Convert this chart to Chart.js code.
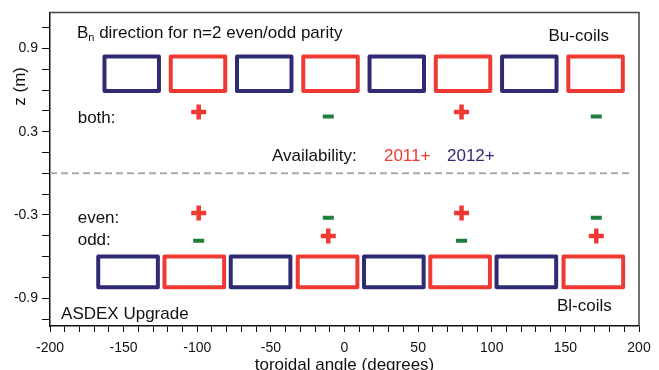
<!DOCTYPE html>
<html>
<head>
<meta charset="utf-8">
<title>Bn direction for n=2 even/odd parity</title>
<script src="https://cdn.jsdelivr.net/npm/chart.js@4/dist/chart.umd.min.js"></script>
<style>
  html, body { margin: 0; padding: 0; background: #ffffff; }
  canvas { display: block; }
</style>
</head>
<body>
<canvas id="chart" width="659" height="370"></canvas>
<script>
// ---- data -------------------------------------------------------------
// Toroidal centres (degrees) of the upper (Bu) and lower (Bl) saddle coils
const upperCoilCentres = [-144.5, -99.5, -54.5, -9.5, 35.5, 80.5, 125.5, 170.5];
const lowerCoilCentres = [-147, -102, -57, -11.5, 33.5, 78.5, 123.5, 169];
// Year each coil became available
const upperCoilYears = [2012, 2011, 2012, 2011, 2012, 2011, 2012, 2011];
const lowerCoilYears = [2012, 2011, 2012, 2011, 2012, 2011, 2012, 2011];
// Toroidal extent (degrees) and vertical extent (m) of each coil row
const upperCoilSpan = 37;
const lowerCoilSpan = 40.5;
const upperCoilZ = [0.594, 0.843];
const lowerCoilZ = [-0.821, -0.600];

// Sign of the applied Bn at each 2011 coil angle, per parity row
const signAngles = [-99, -11, 79.5, 171];
const bothSigns = ['+', '-', '+', '-'];
const evenSigns = ['+', '-', '+', '-'];
const oddSigns  = ['-', '+', '-', '+'];
const bothRowZ = 0.443;
const evenRowZ = -0.286;
const oddRowZ  = -0.452;

// Axis ticks
const xMin = -200, xMax = 200, xMinorStep = 10;
const xTickLabels = [-200, -150, -100, -50, 0, 50, 100, 150, 200];
const yMin = -1.1, yMax = 1.16;
const yTickValues = [-1.05, -0.9, -0.75, -0.6, -0.45, -0.3, -0.15, 0, 0.15, 0.3, 0.45, 0.6, 0.75, 0.9, 1.05];
const yTickLabels = [-0.9, -0.3, 0.3, 0.9];

// ---- styling ----------------------------------------------------------
const FONT = '"Liberation Sans", Arial, Helvetica, sans-serif';
const LABEL_SIZE = 17;
const RED = '#ee3a33';
const NAVY = '#2f2b72';
const GREEN = '#1f7f3c';
const TEXT = '#111111';
const yearColour = { 2011: RED, 2012: NAVY };
const MINUS_DROP = 0.033; // the minus glyph sits a little below the plus centre

Chart.defaults.font.family = FONT;
Chart.defaults.color = TEXT;

const xTickValues = [];
for (let v = xMin; v <= xMax; v += xMinorStep) xTickValues.push(v);

function coilOutline(centre, span, z) {
  const h = span / 2;
  return [
    { x: centre - h, y: z[0] }, { x: centre + h, y: z[0] },
    { x: centre + h, y: z[1] }, { x: centre - h, y: z[1] },
    { x: centre - h, y: z[0] }
  ];
}

function coilDatasets(centres, years, span, z) {
  return centres.map((c, i) => ({
    data: coilOutline(c, span, z),
    showLine: true,
    borderColor: yearColour[years[i]],
    borderWidth: 4,
    borderJoinStyle: 'round',
    borderCapStyle: 'round',
    pointRadius: 0,
    pointHoverRadius: 0,
    fill: false
  }));
}

function signPoints(sign) {
  const rows = [[bothSigns, bothRowZ], [evenSigns, evenRowZ], [oddSigns, oddRowZ]];
  const pts = [];
  rows.forEach(([signs, z]) => {
    signs.forEach((s, i) => {
      if (s === sign) pts.push({ x: signAngles[i], y: sign === '+' ? z : z - MINUS_DROP });
    });
  });
  return pts;
}

const datasets = [
  ...coilDatasets(upperCoilCentres, upperCoilYears, upperCoilSpan, upperCoilZ),
  ...coilDatasets(lowerCoilCentres, lowerCoilYears, lowerCoilSpan, lowerCoilZ),
  {
    // midplane
    data: [{ x: xMin, y: 0 }, { x: 196, y: 0 }],
    showLine: true,
    borderColor: '#aaaaaa',
    borderWidth: 2,
    borderDash: [7, 4],
    pointRadius: 0
  },
  {
    data: signPoints('+'),
    showLine: false,
    pointStyle: 'cross',
    pointRadius: 7.5,
    pointBorderWidth: 4.5,
    pointBorderColor: RED,
    pointBackgroundColor: RED,
    pointHoverRadius: 7.5
  },
  {
    data: signPoints('-'),
    showLine: false,
    pointStyle: 'line',
    pointRadius: 5.5,
    pointBorderWidth: 4,
    pointBorderColor: GREEN,
    pointBackgroundColor: GREEN,
    pointHoverRadius: 5.5
  }
];

// Annotations placed in data coordinates (toroidal angle, z)
const notes = [
  { text: 'Bu-coils', x: 179.6, z: 0.954, align: 'right' },
  { text: 'both:', x: -181.2, z: 0.361, align: 'left' },
  { text: 'Availability:', x: -49.2, z: 0.091, align: 'left' },
  { text: '2011+', x: 26.8, z: 0.091, align: 'left', color: RED },
  { text: '2012+', x: 69.6, z: 0.091, align: 'left', color: NAVY },
  { text: 'even:', x: -181.2, z: -0.356, align: 'left' },
  { text: 'odd:', x: -181.2, z: -0.517, align: 'left' },
  { text: 'Bl-coils', x: 181.5, z: -0.992, align: 'right' },
  { text: 'ASDEX Upgrade', x: -192.5, z: -1.050, align: 'left' }
];

const annotationPlugin = {
  id: 'annotations',
  afterDraw(chart) {
    const { ctx, chartArea, scales } = chart;
    const sx = scales.x, sy = scales.y;
    const labelFont = LABEL_SIZE + 'px ' + FONT;
    ctx.save();

    // frame on the top and right edges
    ctx.strokeStyle = '#444444';
    ctx.lineWidth = 1.5;
    ctx.beginPath();
    ctx.moveTo(chartArea.left, chartArea.top);
    ctx.lineTo(chartArea.right, chartArea.top);
    ctx.lineTo(chartArea.right, chartArea.bottom);
    ctx.stroke();

    ctx.textBaseline = 'alphabetic';
    ctx.font = labelFont;
    notes.forEach(n => {
      ctx.fillStyle = n.color || TEXT;
      ctx.textAlign = n.align;
      ctx.fillText(n.text, sx.getPixelForValue(n.x), sy.getPixelForValue(n.z));
    });

    // heading with subscript n
    let hx = sx.getPixelForValue(-181.7);
    const hy = sy.getPixelForValue(0.978);
    ctx.textAlign = 'left';
    ctx.fillStyle = TEXT;
    ctx.font = labelFont;
    ctx.fillText('B', hx, hy);
    hx += ctx.measureText('B').width;
    ctx.font = '11px ' + FONT;
    ctx.fillText('n', hx, hy + 3);
    hx += ctx.measureText('n').width;
    ctx.font = labelFont;
    ctx.fillText(' direction for n=2 even/odd parity', hx, hy);

    // vertical axis title
    ctx.translate(chartArea.left - 30, sy.getPixelForValue(0.627));
    ctx.rotate(-Math.PI / 2);
    ctx.textAlign = 'center';
    ctx.textBaseline = 'middle';
    ctx.fillText('z (m)', 0, 0);
    ctx.restore();
  }
};

new Chart(document.getElementById('chart'), {
  type: 'scatter',
  data: { datasets },
  options: {
    responsive: false,
    animation: false,
    events: [],
    layout: { padding: { top: 12, right: 20, left: 0, bottom: 0 } },
    plugins: { legend: { display: false }, tooltip: { enabled: false } },
    scales: {
      x: {
        type: 'linear',
        min: xMin,
        max: xMax,
        afterBuildTicks: s => { s.ticks = xTickValues.map(v => ({ value: v })); },
        afterFit: s => { s.height = 44; },
        ticks: {
          autoSkip: false,
          maxRotation: 0,
          padding: 8,
          color: TEXT,
          font: { size: 14 },
          callback: v => (xTickLabels.includes(v) ? String(v) : '')
        },
        grid: { drawOnChartArea: false, drawTicks: true, tickLength: 6, color: TEXT, tickColor: TEXT, lineWidth: 1 },
        border: { display: true, color: TEXT, width: 1.5 },
        title: {
          display: true,
          text: 'toroidal angle (degrees)',
          color: TEXT,
          font: { size: LABEL_SIZE, lineHeight: 0.53 },
          padding: 0
        }
      },
      y: {
        type: 'linear',
        min: yMin,
        max: yMax,
        afterBuildTicks: s => { s.ticks = yTickValues.map(v => ({ value: v })); },
        afterFit: s => { s.width = 50; },
        ticks: {
          autoSkip: false,
          padding: 4,
          color: TEXT,
          font: { size: 14 },
          callback: v => (yTickLabels.includes(v) ? String(v) : '')
        },
        grid: { drawOnChartArea: false, drawTicks: true, tickLength: 8, color: TEXT, tickColor: TEXT, lineWidth: 1 },
        border: { display: true, color: TEXT, width: 1.5 }
      }
    }
  },
  plugins: [annotationPlugin]
});
</script>
</body>
</html>
